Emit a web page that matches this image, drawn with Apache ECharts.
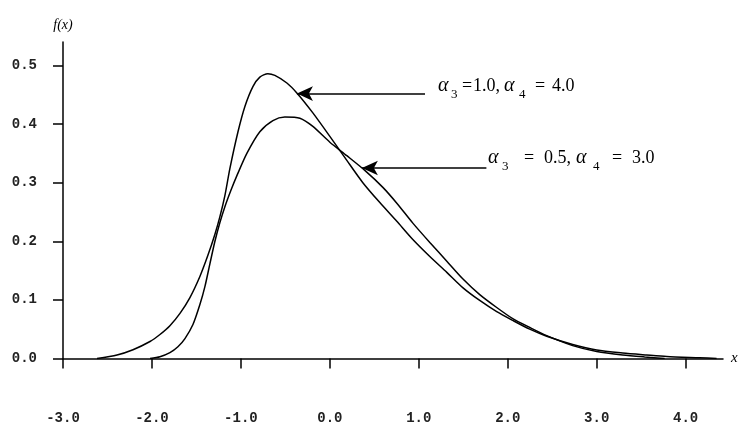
<!DOCTYPE html>
<html lang="en">
<head>
    <meta charset="UTF-8">
    <title>f(x)</title>
    <script src="https://cdn.jsdelivr.net/npm/echarts@6/dist/echarts.min.js"></script>
    <style>
        html, body { margin: 0; padding: 0; background: #fff; }
        #main { width: 744px; height: 427px; }
    </style>
</head>
<body>
    <div id="main"></div>
    <script>
        // curve alpha3 = 1.0, alpha4 = 4.0
        var xA = [-2.618, -2.393, -2.213, -2.022, -1.910, -1.798, -1.685, -1.573, -1.461, -1.371, -1.292, -1.236, -1.180, -1.124, -1.034, -0.955, -0.865, -0.787, -0.697, -0.618, -0.483, -0.371, -0.191, 0.0, 0.191, 0.371, 0.562, 0.753, 0.933, 1.124, 1.315, 1.494, 1.685, 1.876, 2.056, 2.247, 2.438, 2.730, 3.0, 3.292, 3.562, 3.787, 4.157, 4.348];
        var yA = [0, 0.006, 0.015, 0.029, 0.041, 0.056, 0.077, 0.104, 0.140, 0.176, 0.212, 0.242, 0.278, 0.324, 0.386, 0.430, 0.464, 0.480, 0.486, 0.483, 0.470, 0.453, 0.419, 0.379, 0.338, 0.300, 0.266, 0.234, 0.203, 0.174, 0.147, 0.121, 0.099, 0.080, 0.065, 0.050, 0.038, 0.024, 0.0145, 0.0094, 0.006, 0.0034, 0.0012, 0];
        // curve alpha3 = 0.5, alpha4 = 3.0
        var xB = [-2.022, -1.910, -1.798, -1.708, -1.629, -1.539, -1.461, -1.404, -1.348, -1.292, -1.236, -1.180, -1.112, -1.045, -0.933, -0.787, -0.640, -0.506, -0.337, -0.191, 0.0, 0.191, 0.393, 0.596, 0.753, 0.933, 1.124, 1.315, 1.494, 1.685, 1.876, 2.056, 2.247, 2.438, 2.730, 3.0, 3.292, 3.539, 3.764];
        var yB = [0, 0.003, 0.010, 0.020, 0.034, 0.058, 0.092, 0.123, 0.162, 0.200, 0.232, 0.259, 0.287, 0.312, 0.350, 0.387, 0.406, 0.412, 0.410, 0.396, 0.369, 0.346, 0.321, 0.292, 0.265, 0.231, 0.198, 0.166, 0.136, 0.109, 0.087, 0.068, 0.053, 0.039, 0.022, 0.012, 0.006, 0.0026, 0];

        var xTicks = [-3, -2, -1, 0, 1, 2, 3, 4];
        var yTicks = [0, 0.1, 0.2, 0.3, 0.4, 0.5];

        // arrows: [tip x, tip y, tail x, tail y]
        var arrowA = [-0.37, 0.452, 1.07, 0.452];
        var arrowB = [0.36, 0.325, 1.76, 0.325];

        // annotation pieces: text, kind (a = alpha, s = subscript, n = normal)
        var labelA = [['α', 'a'], ['3', 's'], ['=', 'n'], ['1.0,', 'n'], ['α', 'a'], ['4', 's'], ['=', 'n'], ['4.0', 'n']];
        var labelB = [['α', 'a'], ['3', 's'], ['=', 'n'], ['0.5,', 'n'], ['α', 'a'], ['4', 's'], ['=', 'n'], ['3.0', 'n']];
        var labelAX = [438, 451, 462, 473, 504, 519, 535, 552];
        var labelBX = [488, 502, 524, 544, 576, 593, 612, 632];

        function pairs(xs, ys) {
            var out = [];
            for (var i = 0; i < xs.length; i++) out.push([xs[i], ys[i]]);
            return out;
        }

        var pieceStyle = {
            a: { fontFamily: 'Liberation Serif', fontStyle: 'italic', fontSize: 20, dy: 0 },
            s: { fontFamily: 'Liberation Serif', fontStyle: 'normal', fontSize: 13, dy: 9 },
            n: { fontFamily: 'Liberation Serif', fontStyle: 'normal', fontSize: 18, dy: 0 }
        };

        function labelGraphics(pieces, xs, y) {
            var out = [];
            for (var i = 0; i < pieces.length; i++) {
                var st = pieceStyle[pieces[i][1]];
                out.push({
                    type: 'text',
                    x: xs[i],
                    y: y + st.dy,
                    silent: true,
                    style: {
                        text: pieces[i][0],
                        fontFamily: st.fontFamily,
                        fontStyle: st.fontStyle,
                        fontSize: st.fontSize,
                        fill: '#000',
                        verticalAlign: 'middle'
                    }
                });
            }
            return out;
        }

        var tickFont = {
            fontFamily: 'Liberation Mono',
            fontSize: 14,
            fontWeight: 'bold',
            color: '#222'
        };
        var lineBlack = { color: '#000', width: 1.5 };

        function arrow(a) {
            return {
                silent: true,
                animation: false,
                symbol: ['arrow', 'none'],
                symbolSize: [11, 16],
                lineStyle: { color: '#000', width: 1.5, type: 'solid' },
                label: { show: false },
                data: [[{ coord: [a[0], a[1]] }, { coord: [a[2], a[3]] }]]
            };
        }

        var myChart = echarts.init(document.getElementById('main'));
        var option = {
            backgroundColor: '#fff',
            animation: false,
            grid: { left: 63, right: 21, top: 42, bottom: 68.5 },
            xAxis: {
                type: 'value',
                min: -3,
                max: 4.42,
                name: 'x',
                nameLocation: 'end',
                nameGap: 8,
                nameTextStyle: { fontFamily: 'Liberation Serif', fontStyle: 'italic', fontSize: 15, color: '#000' },
                axisLine: { show: true, onZero: false, lineStyle: lineBlack },
                axisTick: { show: true, length: 10, customValues: xTicks, lineStyle: lineBlack },
                axisLabel: {
                    customValues: xTicks,
                    margin: 53,
                    formatter: function (v) { return v.toFixed(1); },
                    fontFamily: tickFont.fontFamily, fontSize: tickFont.fontSize,
                    fontWeight: tickFont.fontWeight, color: tickFont.color
                },
                splitLine: { show: false }
            },
            yAxis: {
                type: 'value',
                min: 0,
                max: 0.54,
                name: 'f(x)',
                nameLocation: 'end',
                nameGap: 10,
                nameTextStyle: { fontFamily: 'Liberation Serif', fontStyle: 'italic', fontSize: 14, color: '#000' },
                axisLine: { show: true, onZero: false, lineStyle: lineBlack },
                axisTick: { show: true, length: 10, customValues: yTicks, lineStyle: lineBlack },
                axisLabel: {
                    customValues: yTicks,
                    margin: 26,
                    formatter: function (v) { return v.toFixed(1); },
                    fontFamily: tickFont.fontFamily, fontSize: tickFont.fontSize,
                    fontWeight: tickFont.fontWeight, color: tickFont.color
                },
                splitLine: { show: false }
            },
            graphic: labelGraphics(labelA, labelAX, 86).concat(labelGraphics(labelB, labelBX, 158)),
            series: [{
                name: 'a3=1.0,a4=4.0',
                type: 'line',
                data: pairs(xA, yA),
                smooth: 0.25,
                showSymbol: false,
                lineStyle: lineBlack,
                markLine: arrow(arrowA)
            }, {
                name: 'a3=0.5,a4=3.0',
                type: 'line',
                data: pairs(xB, yB),
                smooth: 0.25,
                showSymbol: false,
                lineStyle: lineBlack,
                markLine: arrow(arrowB)
            }]
        };

        myChart.setOption(option);
    </script>
</body>
</html>
